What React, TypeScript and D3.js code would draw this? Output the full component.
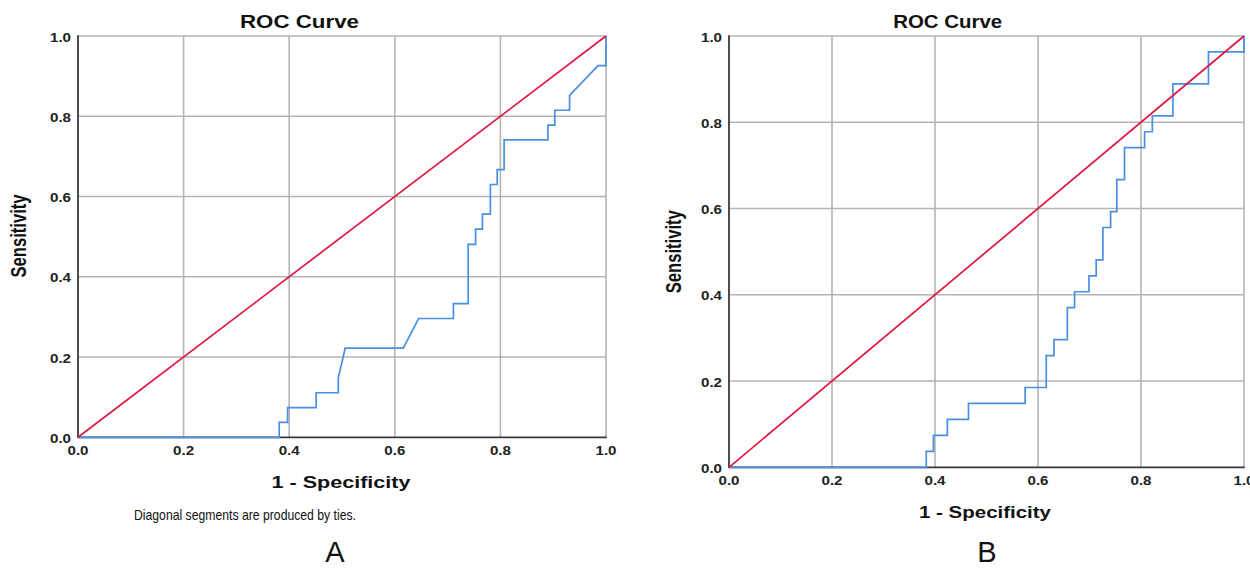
import React from "react";
import * as d3 from "d3";

// ---- data ----
const ticks = [0, 0.2, 0.4, 0.6, 0.8, 1.0];
const tickLabels = ["0.0", "0.2", "0.4", "0.6", "0.8", "1.0"];

const fprA = [0, 0.381, 0.381, 0.397, 0.397, 0.451, 0.451, 0.493, 0.493, 0.506, 0.616, 0.645, 0.711, 0.711, 0.739, 0.739, 0.753, 0.753, 0.766, 0.766, 0.781, 0.781, 0.794, 0.794, 0.807, 0.807, 0.890, 0.890, 0.903, 0.903, 0.931, 0.931, 0.985, 1, 1];
const tprA = [0, 0, 0.037, 0.037, 0.074, 0.074, 0.111, 0.111, 0.148, 0.222, 0.222, 0.296, 0.296, 0.333, 0.333, 0.481, 0.481, 0.519, 0.519, 0.556, 0.556, 0.630, 0.630, 0.667, 0.667, 0.741, 0.741, 0.778, 0.778, 0.815, 0.815, 0.852, 0.926, 0.926, 1];

const fprB = [0, 0.383, 0.383, 0.397, 0.397, 0.424, 0.424, 0.465, 0.465, 0.575, 0.575, 0.616, 0.616, 0.631, 0.631, 0.657, 0.657, 0.671, 0.671, 0.699, 0.699, 0.713, 0.713, 0.726, 0.726, 0.741, 0.741, 0.753, 0.753, 0.768, 0.768, 0.807, 0.807, 0.822, 0.822, 0.862, 0.862, 0.931, 0.931, 1, 1];
const tprB = [0, 0, 0.037, 0.037, 0.074, 0.074, 0.111, 0.111, 0.148, 0.148, 0.185, 0.185, 0.259, 0.259, 0.296, 0.296, 0.370, 0.370, 0.407, 0.407, 0.444, 0.444, 0.481, 0.481, 0.556, 0.556, 0.593, 0.593, 0.667, 0.667, 0.741, 0.741, 0.778, 0.778, 0.815, 0.815, 0.889, 0.889, 0.963, 0.963, 1];

const diagonal = [0, 1];

const titleText = "ROC Curve";
const xTitle = "1 - Specificity";
const yTitle = "Sensitivity";
const footnote = "Diagonal segments are produced by ties.";

// ---- layout ----
const FONT = "'Liberation Sans', Arial, Helvetica, sans-serif";
const GRID = "#b5b5b5";
const AXIS = "#3a3a3a";
const RED = "#e0163f";
const BLUE = "#4a90e2";

type PanelCfg = {
  fpr: number[];
  tpr: number[];
  x0: number; x1: number; y0: number; y1: number;
  titleX: number; titleLen: number;
  xTitleX: number; xTitleY: number; xTitleLen: number;
  yTitleX: number; yTitleY: number;
  letter: string; letterX: number;
  footnote?: boolean;
};

const panels: PanelCfg[] = [
  {
    fpr: fprA, tpr: tprA,
    x0: 78, x1: 606, y0: 437.3, y1: 36,
    titleX: 299.5, titleLen: 119,
    xTitleX: 341, xTitleY: 488, xTitleLen: 139,
    yTitleX: 18.5, yTitleY: 236,
    letter: "A", letterX: 335, footnote: true,
  },
  {
    fpr: fprB, tpr: tprB,
    x0: 729, x1: 1244, y0: 467.3, y1: 36,
    titleX: 947.7, titleLen: 109,
    xTitleX: 985, xTitleY: 518, xTitleLen: 132,
    yTitleX: 673.5, yTitleY: 251.7,
    letter: "B", letterX: 987,
  },
];

function Panel({ p }: { p: PanelCfg }) {
  const x = d3.scaleLinear().domain([0, 1]).range([p.x0, p.x1]);
  const y = d3.scaleLinear().domain([0, 1]).range([p.y0, p.y1]);
  const pts: [number, number][] = p.fpr.map((f, i) => [f, p.tpr[i]]);
  const line = d3.line<[number, number]>().x((d) => x(d[0])).y((d) => y(d[1]));
  const diag: [number, number][] = diagonal.map((v) => [v, v]);

  return (
    <g>
      {/* grid */}
      {ticks.filter((t) => t > 0).map((t) => (
        <line key={"gx" + t} x1={x(t)} x2={x(t)} y1={p.y0} y2={p.y1} stroke={GRID} strokeWidth={1.6} />
      ))}
      {ticks.filter((t) => t > 0).map((t) => (
        <line key={"gy" + t} x1={p.x0} x2={p.x1} y1={y(t)} y2={y(t)} stroke={GRID} strokeWidth={1.6} />
      ))}
      {/* axes */}
      <line x1={p.x0} x2={p.x0} y1={p.y1 - 0.8} y2={p.y0 + 0.8} stroke={AXIS} strokeWidth={1.8} />
      <line x1={p.x0} x2={p.x1 + 0.8} y1={p.y0} y2={p.y0} stroke={AXIS} strokeWidth={1.8} />
      {/* curves */}
      <path d={line(pts) || ""} fill="none" stroke={BLUE} strokeWidth={1.7} />
      <path d={line(diag) || ""} fill="none" stroke={RED} strokeWidth={1.7} />
      {/* tick labels */}
      {ticks.map((t, i) => (
        <text key={"tx" + t} x={x(t)} y={p.y0 + 18} textAnchor="middle" fontFamily={FONT} fontSize={12} fontWeight="bold" fill="#222" textLength={21} lengthAdjust="spacingAndGlyphs">
          {tickLabels[i]}
        </text>
      ))}
      {ticks.map((t, i) => (
        <text key={"ty" + t} x={p.x0 - 7} y={y(t) + 5.5} textAnchor="end" fontFamily={FONT} fontSize={12} fontWeight="bold" fill="#222" textLength={21} lengthAdjust="spacingAndGlyphs">
          {tickLabels[i]}
        </text>
      ))}
      {/* titles */}
      <text x={p.titleX} y={28} textAnchor="middle" fontFamily={FONT} fontSize={18} fontWeight="bold" fill="#111" textLength={p.titleLen} lengthAdjust="spacingAndGlyphs">
        {titleText}
      </text>
      <text x={p.xTitleX} y={p.xTitleY} textAnchor="middle" fontFamily={FONT} fontSize={17} fontWeight="bold" fill="#111" textLength={p.xTitleLen} lengthAdjust="spacingAndGlyphs">
        {xTitle}
      </text>
      <text transform={`translate(${p.yTitleX + 7},${p.yTitleY}) scale(1.25,1) rotate(-90)`} textAnchor="middle" fontFamily={FONT} fontSize={17} fontWeight="bold" fill="#111" textLength={83} lengthAdjust="spacingAndGlyphs">
        {yTitle}
      </text>
      {p.footnote && (
        <text x={134} y={520} fontFamily={FONT} fontSize={15} fill="#111" textLength={222} lengthAdjust="spacingAndGlyphs">
          {footnote}
        </text>
      )}
      <text x={p.letterX} y={562} textAnchor="middle" fontFamily={FONT} fontSize={29} fill="#111">
        {p.letter}
      </text>
    </g>
  );
}

export default function App() {
  return (
    <svg width={1250} height={569} style={{ position: "absolute", left: 0, top: 0, background: "#fff" }}>
      <rect x={0} y={0} width={1250} height={569} fill="#fff" />
      {panels.map((p) => (
        <Panel key={p.letter} p={p} />
      ))}
    </svg>
  );
}
